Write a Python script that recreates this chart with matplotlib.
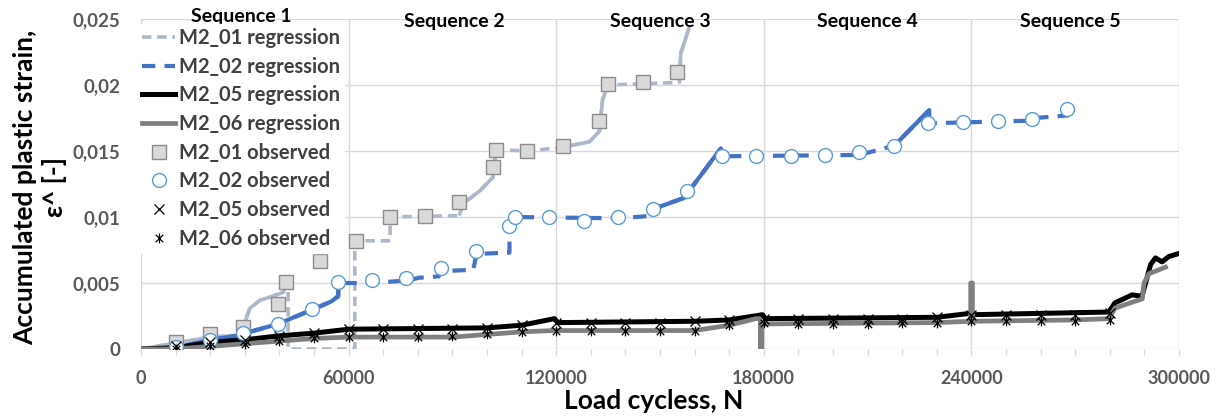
import matplotlib
matplotlib.use("Agg")
import matplotlib.pyplot as plt
from matplotlib.path import Path
from matplotlib.ticker import MultipleLocator, FixedLocator

# ---------------- data ----------------
# Regression curves (load cycles, accumulated plastic strain)
m2_01_reg_x = [0, 8900, 20000, 29500, 30500, 31500, 34400, 38100, 40100, 41100, 41600, 42500, 42500,
               61800, 61800, 72000, 72000, 92000, 93000, 98000, 101700, 102500, 112300, 122200,
               129600, 132500, 133400, 135000, 155600, 156000, 158500]
m2_01_reg_y = [0, 0.0004, 0.0009, 0.00106, 0.0024, 0.0031, 0.0037, 0.0040, 0.0042, 0.0043, 0.0047, 0.0047, 0,
               0, 0.0082, 0.0082, 0.0100, 0.0101, 0.0110, 0.0120, 0.0130, 0.0151, 0.0150, 0.0153,
               0.0157, 0.0165, 0.0189, 0.0200, 0.0202, 0.0224, 0.0244]

m2_02_reg_x = [0, 8900, 20000, 29500, 31500, 39600, 49700, 55000, 57000, 57000, 67000, 77000, 80500,
               86000, 87000, 96000, 97000, 105700, 106500, 106500, 108000, 138300, 147900, 148000,
               157500, 158500, 167600, 168000, 207600, 217700, 227800, 227800, 257500, 258600, 268200]
m2_02_reg_y = [0, 0.0, 0.0007, 0.00106, 0.0013, 0.0019, 0.0030, 0.0036, 0.0040, 0.0050, 0.0050, 0.0052, 0.0054,
               0.0055, 0.0059, 0.0060, 0.0072, 0.0073, 0.0073, 0.0090, 0.0100, 0.0099, 0.0101, 0.0106,
               0.0115, 0.0120, 0.0152, 0.0146, 0.0147, 0.0154, 0.0181, 0.0171, 0.0173, 0.0175, 0.0177]

m2_05_reg_x = [0, 10000, 20000, 30000, 40000, 50000, 60000, 100000, 110000, 119500, 120500, 160000,
               170000, 179600, 180500, 230000, 239600, 240500, 279700, 281500, 284000, 286400, 289300,
               291800, 293200, 295100, 297000, 299500]
m2_05_reg_y = [0, 0.0001, 0.0005, 0.0007, 0.0010, 0.0012, 0.0015, 0.0016, 0.0018, 0.0023, 0.0020, 0.0021,
               0.0022, 0.0026, 0.0023, 0.0024, 0.0027, 0.0026, 0.0028, 0.0035, 0.0038, 0.0041, 0.0040,
               0.0064, 0.0069, 0.0066, 0.0070, 0.0072]

m2_06_reg_x = [0, 10000, 20000, 30000, 40000, 50000, 60000, 90000, 100000, 110000, 119500, 160000,
               170000, 177700, 179000, 179000, 179400, 179400, 230000, 239800, 239800, 240300, 240300,
               270000, 279700, 281500, 289400, 289900, 291300, 296100]
m2_06_reg_y = [0, 0.0, 0.0002, 0.0004, 0.0006, 0.0008, 0.0009, 0.0009, 0.0011, 0.0013, 0.0014, 0.0014,
               0.0018, 0.0023, 0.0023, 0.0, 0.0, 0.0019, 0.0020, 0.0021, 0.0050, 0.0050, 0.0021,
               0.0022, 0.0023, 0.0031, 0.0038, 0.0050, 0.0057, 0.0062]

# Observed points
m2_01_obs_x = [10000, 20000, 29500, 39600, 42000, 51800, 62000, 72000, 82000, 92000, 101700, 102500,
               111700, 122000, 132300, 135000, 145000, 155000]
m2_01_obs_y = [0.00055, 0.0011, 0.0017, 0.0034, 0.0051, 0.0067, 0.0082, 0.0100, 0.0101, 0.0111, 0.0138,
               0.0151, 0.0150, 0.0154, 0.0173, 0.0201, 0.0202, 0.0210]

m2_02_obs_x = [10000, 20000, 29500, 39600, 49500, 56800, 66700, 76700, 86800, 96700, 106500, 108000,
               117900, 127900, 137800, 147900, 157800, 167900, 177700, 187800, 197800, 207600, 217700,
               227500, 237600, 247700, 257500, 267500]
m2_02_obs_y = [0.00017, 0.0007, 0.0012, 0.0019, 0.0030, 0.00505, 0.0052, 0.0054, 0.0061, 0.0074, 0.0093,
               0.0100, 0.0100, 0.0097, 0.0100, 0.0106, 0.0120, 0.0146, 0.0146, 0.0146, 0.0147, 0.0149,
               0.0154, 0.0171, 0.0172, 0.0173, 0.0174, 0.0182]

obs_cycles = [10000, 20000, 30000, 40000, 50000, 60000, 70000, 80000, 90000, 100000, 110000, 120000,
              130000, 140000, 150000, 160000, 170000, 180000, 190000, 200000, 210000, 220000, 230000,
              240000, 250000, 260000, 270000, 280000]
m2_05_obs_y = [0.0002, 0.0005, 0.0007, 0.0010, 0.0012, 0.0015, 0.0015, 0.0015, 0.0015, 0.0016, 0.0018,
               0.0020, 0.0020, 0.0020, 0.0020, 0.0021, 0.0022, 0.0023, 0.0023, 0.0023, 0.0023, 0.0023,
               0.0024, 0.0026, 0.0026, 0.0026, 0.0026, 0.0027]
m2_06_obs_y = [0.0, 0.0002, 0.0004, 0.0006, 0.0008, 0.0009, 0.0009, 0.0009, 0.0010, 0.0011, 0.0013,
               0.0014, 0.0014, 0.0014, 0.0014, 0.0014, 0.0018, 0.0020, 0.0019, 0.0019, 0.0019, 0.0020,
               0.0020, 0.0021, 0.0021, 0.0021, 0.0021, 0.0022]

x_ticks = [0, 60000, 120000, 180000, 240000, 300000]
x_tick_labels = ["0", "60000", "120000", "180000", "240000", "300000"]
y_ticks = [0, 0.005, 0.01, 0.015, 0.02, 0.025]
y_tick_labels = ["0", "0,005", "0,01", "0,015", "0,02", "0,025"]

sequence_names = ["Sequence 1", "Sequence 2", "Sequence 3", "Sequence 4", "Sequence 5"]
sequence_x = [29000, 90500, 150000, 210000, 268500]

# ---------------- style ----------------
FONT = ["Lato", "DejaVu Sans"]
plt.rcParams["font.family"] = FONT
plt.rcParams["font.weight"] = "bold"

C_01 = "#ADB9CA"
C_02 = "#4472C4"
C_05 = "#000000"
C_06 = "#7F7F7F"
GRID = "#D9D9D9"
TICK_TXT = "#595959"

# Excel-like "star" marker: an x with a vertical bar
star = Path([(-1, -1), (1, 1), (-1, 1), (1, -1), (0, -1.3), (0, 1.3)],
            [Path.MOVETO, Path.LINETO, Path.MOVETO, Path.LINETO, Path.MOVETO, Path.LINETO])

fig = plt.figure(figsize=(12.26, 4.17), dpi=100)
ax = fig.add_axes([141 / 1226, 1 - 349 / 417, 1038 / 1226, 330 / 417])

ax.set_xlim(0, 300000)
ax.set_ylim(0, 0.025)
for s in ax.spines.values():
    s.set_visible(False)
ax.xaxis.set_major_locator(FixedLocator(x_ticks))
ax.xaxis.set_minor_locator(MultipleLocator(10000))
ax.set_xticklabels(x_tick_labels)
ax.set_yticks(y_ticks)
ax.set_yticklabels(y_tick_labels)
ax.grid(True, which="major", color=GRID, linewidth=1.0)
ax.set_axisbelow(True)
ax.tick_params(axis="x", which="both", direction="out", length=4.5, color=GRID, width=1.0,
               labelsize=13, labelcolor=TICK_TXT, pad=10.5)
ax.tick_params(axis="y", which="both", length=0, labelsize=13.5, labelcolor=TICK_TXT, pad=15)


def dense_overlay(xs, ys, spans, **kw):
    """Redraw stretches of densely logged data as a solid line."""
    for lo, hi in spans:
        px = [x for x in xs if lo <= x <= hi]
        py = [y for x, y in zip(xs, ys) if lo <= x <= hi]
        ax.plot(px, py, solid_capstyle="butt", **kw)


l01, = ax.plot(m2_01_reg_x, m2_01_reg_y, color=C_01, lw=2.6, dashes=(2.6, 1.6),
               label="M2_01 regression")
dense_overlay(m2_01_reg_x, m2_01_reg_y, [(0, 41700), (92000, 102500), (122200, 135000), (155600, 158500)],
              color=C_01, lw=2.6)
l02, = ax.plot(m2_02_reg_x, m2_02_reg_y, color=C_02, lw=3.0, dashes=(3.2, 2.2),
               label="M2_02 regression")
dense_overlay(m2_02_reg_x, m2_02_reg_y, [(0, 57000), (148000, 167600), (217700, 227800)],
              color=C_02, lw=3.0)
l05, = ax.plot(m2_05_reg_x, m2_05_reg_y, color=C_05, lw=3.6, label="M2_05 regression")
l06, = ax.plot(m2_06_reg_x, m2_06_reg_y, color=C_06, lw=3.4, label="M2_06 regression")

o01, = ax.plot(m2_01_obs_x, m2_01_obs_y, ls="none", marker="s", ms=9.5, mfc="#D9D9D9", mec="#8C8C8C",
               mew=1.0, label="M2_01 observed")
o02, = ax.plot(m2_02_obs_x, m2_02_obs_y, ls="none", marker="o", ms=10, mfc="white", mec="#5B9BD5",
               mew=1.0, label="M2_02 observed")
o05, = ax.plot(obs_cycles, m2_05_obs_y, ls="none", marker="x", ms=6.5, mec="black", mew=0.9,
               label="M2_05 observed")
o06, = ax.plot(obs_cycles, m2_06_obs_y, ls="none", marker=star, ms=7, mec="black", mfc="none",
               mew=0.9, label="M2_06 observed")

leg = ax.legend(handles=[l01, l02, l05, l06, o01, o02, o05, o06], loc="upper left",
                bbox_to_anchor=(-0.003, 0.985), frameon=True, fancybox=False, framealpha=1,
                edgecolor="white", facecolor="white", fontsize=14.5, handlelength=1.65,
                handletextpad=0.2, labelspacing=0.43, borderpad=0.2, borderaxespad=0)
for t in leg.get_texts():
    t.set_color("#404040")
    t.set_fontweight("bold")

for name, sx in zip(sequence_names, sequence_x):
    yy = 0.0252 if name.endswith("1") else 0.0248
    ax.text(sx, yy, name, ha="center", va="center", fontsize=14, fontweight="bold",
            color="black", clip_on=False, zorder=5)

ax.set_xlabel("Load cycless, N", fontsize=19, fontweight="bold", color="black")
ax.xaxis.set_label_coords(0.494, -0.122)
ax.set_ylabel("Accumulated plastic strain,\nε^ [-]", fontsize=19, fontweight="bold",
              color="black", linespacing=1.25)
ax.yaxis.set_label_coords(-0.071, 0.49)

fig.savefig("out.png", dpi=100)
